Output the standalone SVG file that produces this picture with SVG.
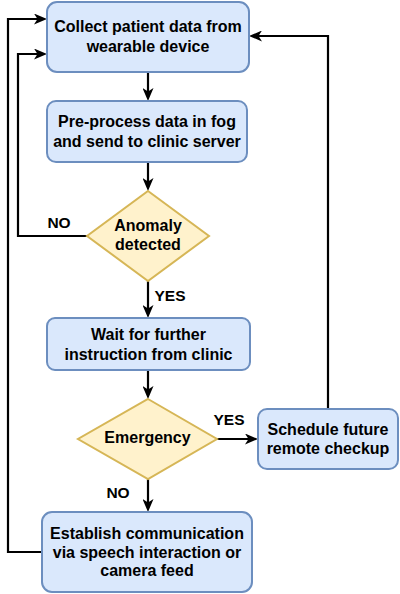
<svg xmlns="http://www.w3.org/2000/svg" width="400" height="594" viewBox="0 0 400 594">
<defs>
<style>
.box{fill:#dae8fc;stroke:#6c8ebf;stroke-width:2}
.dia{fill:#fff2cc;stroke:#d6b656;stroke-width:2}
.t{font-family:"Liberation Sans",Arial,sans-serif;font-weight:bold;font-size:16px;fill:#000;text-anchor:middle}
.lbl{font-family:"Liberation Sans",Arial,sans-serif;font-weight:bold;font-size:15.5px;fill:#000;text-anchor:middle}
.c{fill:none;stroke:#000;stroke-width:2.2;marker-end:url(#arr)}
</style>
<marker id="arr" viewBox="0 0 13 11" refX="5" refY="5.5" markerWidth="13" markerHeight="11" markerUnits="userSpaceOnUse" orient="auto">
<path d="M0,0 L13,5.5 L0,11 L3.5,5.5 Z" fill="#000"/>
</marker>
</defs>
<rect width="400" height="594" fill="#fff"/>
<g id="connectors">
<path class="c" d="M148,72 L148,93"/>
<path class="c" d="M148,162 L148,183"/>
<path class="c" d="M148,281 L148,310"/>
<path class="c" d="M148,370 L148,391"/>
<path class="c" d="M217,439 L250,439"/>
<path class="c" d="M148,479 L148,504"/>
<path class="c" d="M87,236 L18,236 L18,54 L39,54"/>
<path class="c" d="M328,409 L328,36 L257,36"/>
<path class="c" d="M42,552 L8,552 L8,19 L39,19"/>
<text class="lbl" x="59" y="227.5">NO</text>
<text class="lbl" x="170" y="300.5">YES</text>
<text class="lbl" x="229" y="425">YES</text>
<text class="lbl" x="118" y="498">NO</text>
</g>
<g id="collect">
<rect class="box" x="47" y="2" width="202" height="70" rx="10"/>
<text class="t" x="148" y="32">Collect patient data from</text>
<text class="t" x="148" y="52">wearable device</text>
</g>
<g id="preprocess">
<rect class="box" x="47" y="101" width="200" height="61" rx="9"/>
<text class="t" x="147" y="127">Pre-process data in fog</text>
<text class="t" x="147" y="147">and send to clinic server</text>
</g>
<g id="anomaly">
<polygon class="dia" points="148,191 209,236 148,281 87,236"/>
<text class="t" x="148" y="230.5">Anomaly</text>
<text class="t" x="148" y="249.5">detected</text>
</g>
<g id="wait">
<rect class="box" x="47" y="318" width="203" height="52" rx="8"/>
<text class="t" x="148.5" y="340">Wait for further</text>
<text class="t" x="148.5" y="359.5">instruction from clinic</text>
</g>
<g id="emergency">
<polygon class="dia" points="148,399 217,439 148,479 78,439"/>
<text class="t" x="147.5" y="443">Emergency</text>
</g>
<g id="schedule">
<rect class="box" x="258" y="409" width="140" height="60" rx="9"/>
<text class="t" x="328" y="435">Schedule future</text>
<text class="t" x="328" y="454">remote checkup</text>
</g>
<g id="establish">
<rect class="box" x="42" y="512" width="210" height="80" rx="10"/>
<text class="t" x="147" y="539">Establish communication</text>
<text class="t" x="147" y="557.5">via speech interaction or</text>
<text class="t" x="147" y="576">camera feed</text>
</g>
</svg>
